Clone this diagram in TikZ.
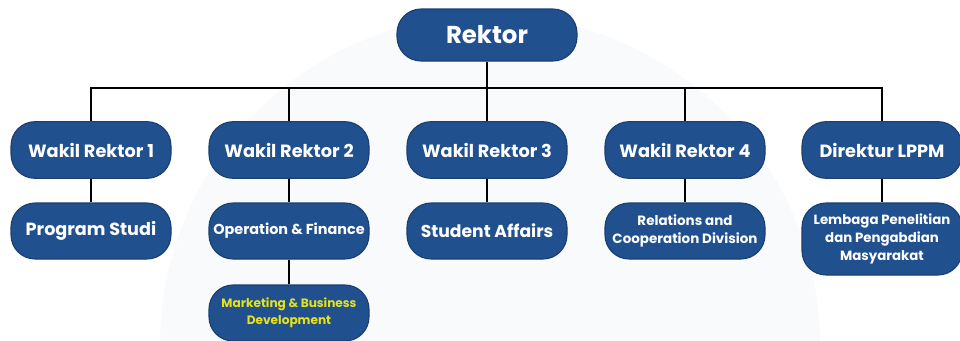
\documentclass[tikz,border=0pt]{standalone}
\usepackage{fontspec}
\setmainfont{Poppins}
\definecolor{boxblue}{HTML}{21508F}
\definecolor{boxedge}{HTML}{1A3E70}
\definecolor{mktyellow}{HTML}{E6E21A}
\definecolor{wmark}{HTML}{F9FAFC}
\begin{document}
\begin{tikzpicture}[x=0.75pt,y=-0.75pt,
  orgbox/.style={draw=boxedge,line width=0.8pt,fill=boxblue,rounded corners=18pt,
    text=white,align=center,inner sep=0pt,font=\bfseries},
  lvltwo/.style={orgbox,minimum width=120pt,minimum height=42.5pt,font=\bfseries\fontsize{13.3}{16}\selectfont},
  lvlthree/.style={orgbox,minimum width=120pt,minimum height=42pt},
  link/.style={line width=1.4pt,black}]
\useasboundingbox (0,0) rectangle (960,340);
\fill[wmark] (490,345) circle (330);
\node[orgbox,minimum width=135pt,minimum height=39pt,font=\bfseries\fontsize{18.3}{22}\selectfont] (r) at (487,35) {Rektor};
\node[lvltwo] (w1) at (91,150) {Wakil Rektor 1};
\node[lvltwo] (w2) at (289,150) {Wakil Rektor 2};
\node[lvltwo] (w3) at (487,150) {Wakil Rektor 3};
\node[lvltwo] (w4) at (685,150) {Wakil Rektor 4};
\node[lvltwo] (w5) at (882,150) {Direktur LPPM};
\node[lvlthree,font=\bfseries\fontsize{13.2}{16}\selectfont] (p1) at (91,231) {Program Studi};
\node[lvlthree,font=\bfseries\fontsize{10.8}{13}\selectfont] (p2) at (289,231) {Operation \& Finance};
\node[lvlthree,font=\bfseries\fontsize{12.9}{16}\selectfont] (p3) at (487,231) {Student Affairs};
\node[lvlthree,font=\bfseries\fontsize{10.1}{14}\selectfont] (p4) at (685,231) {Relations and\\Cooperation Division};
\node[lvlthree,minimum height=54pt,font=\bfseries\fontsize{10}{13.5}\selectfont] (p5) at (882,239) {Lembaga Penelitian\\dan Pengabdian\\Masyarakat};
\node[lvlthree,text=mktyellow,font=\bfseries\fontsize{9.1}{13}\selectfont] (m2) at (289,313) {Marketing \& Business\\Development};
\coordinate (hl) at (91,88);
\coordinate (hr) at (882,88);
\coordinate (hm) at (487,88);
\draw[link] (r.south) -- (hm);
\draw[link] (w1.north) -- (hl) -- (hr) -- (w5.north);
\draw[link] (w2.north) -- (w2.north |- hm);
\draw[link] (w3.north) -- (hm);
\draw[link] (w4.north) -- (w4.north |- hm);
\draw[link] (w1) -- (p1);
\draw[link] (w2) -- (p2);
\draw[link] (w3) -- (p3);
\draw[link] (w4) -- (p4);
\draw[link] (w5) -- (p5);
\draw[link] (p2) -- (m2);
\end{tikzpicture}
\end{document}
